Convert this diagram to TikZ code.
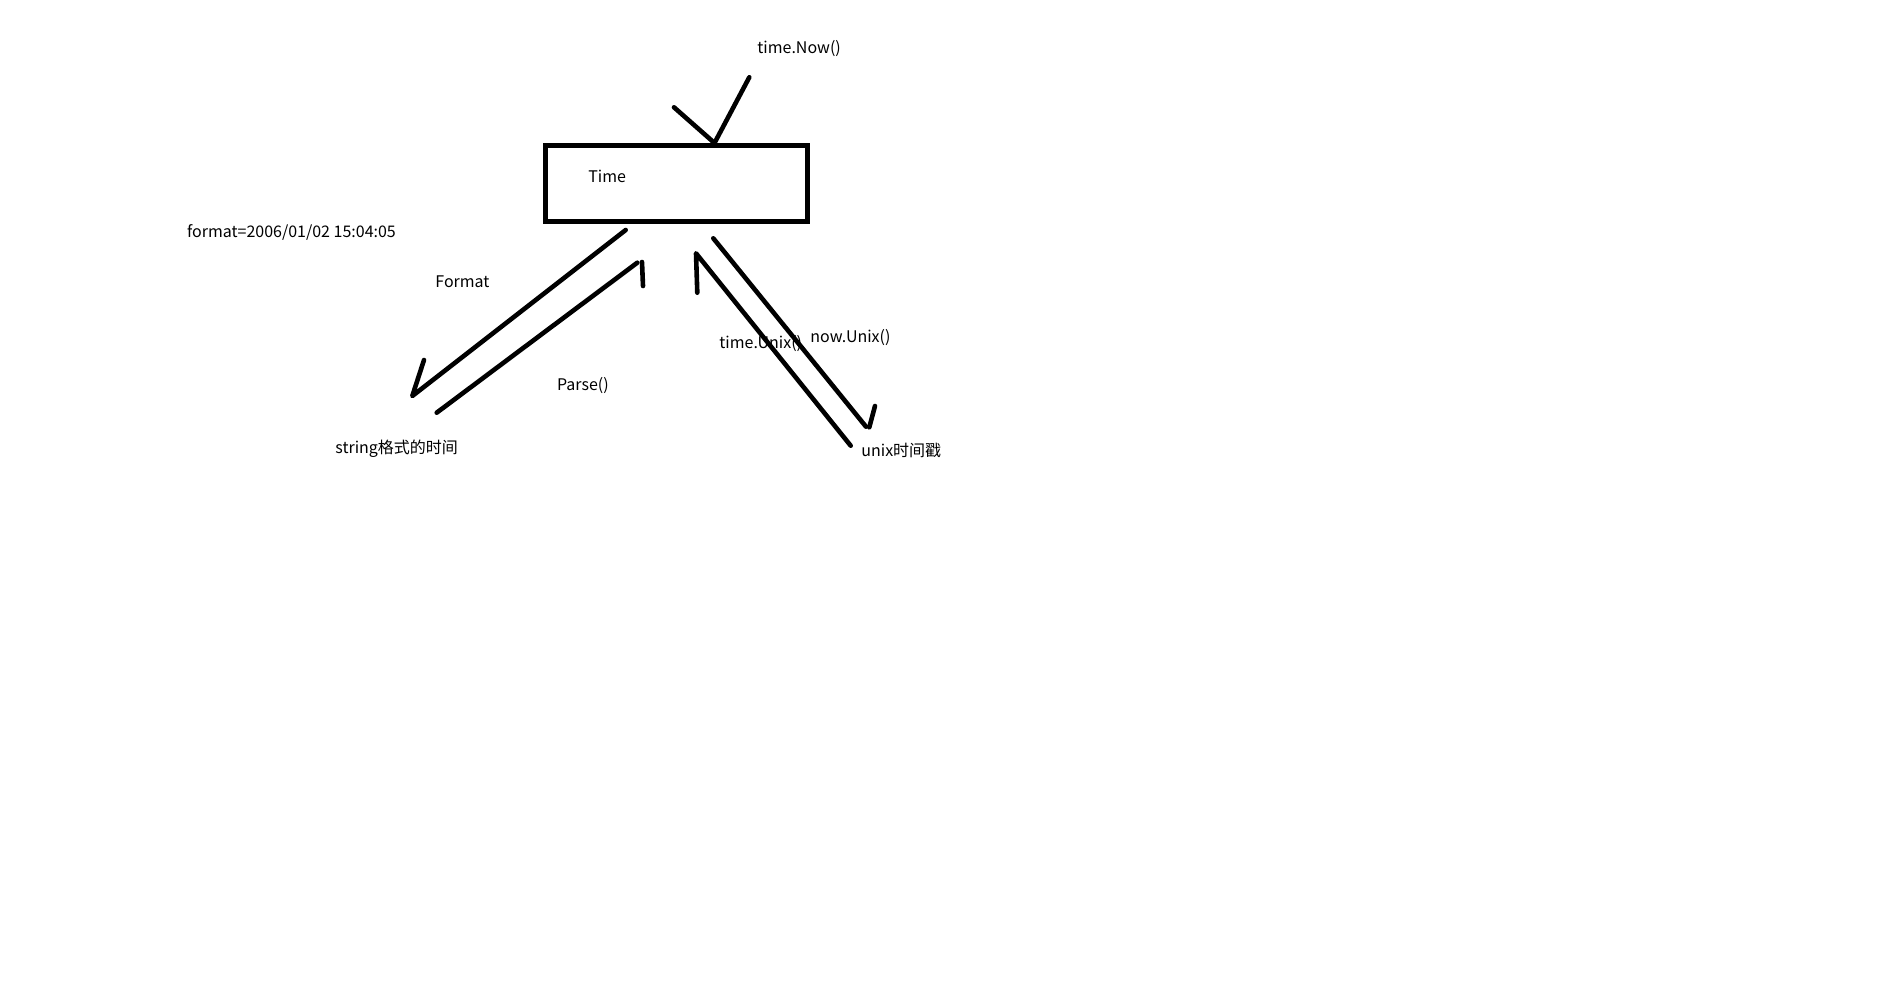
\documentclass[tikz,border=0pt]{standalone}
\usepackage{fontspec}
\setmainfont{Noto Sans CJK SC}
\begin{document}
\begin{tikzpicture}[x=0.5pt,y=-0.5pt,
  stroke/.style={line width=2.3pt,line cap=round,line join=round},
  lbl/.style={font=\fontsize{8}{9}\selectfont,inner sep=0pt,anchor=west},
  boxstyle/.style={draw,line width=2.35pt,minimum width=131pt,minimum height=38pt,inner sep=0pt}]
\fill[white] (0,0) rectangle (1896,1002);
\useasboundingbox (0,0) rectangle (1896,1002);
% box
\node[boxstyle] (time) at (676.7,183.7) {};
\node[lbl] (timelbl) at (588,176.7) {Time};
% labels
\node[lbl] (now) at (757,48.3) {time.Now()};
\node[lbl] (fmtstr) at (186.7,232.7) {format=2006/01/02 15:04:05};
\node[lbl] (format) at (435,281.7) {Format};
\node[lbl] (parse) at (556.7,385.7) {Parse()};
\node[lbl] (str) at (335,448.3) {string格式的时间};
\node[lbl] (tunix) at (719,344) {time.Unix()};
\node[lbl] (nunix) at (810,337.3) {now.Unix()};
\node[lbl] (unix) at (861,450) {unix时间戳};
% coordinates
\coordinate (n0) at (749.3,77.3);
\coordinate (n1) at (714.5,143);
\coordinate (n2) at (674,107.3);
\coordinate (f0) at (625.7,230);
\coordinate (f1) at (412.3,396);
\coordinate (f2) at (424,360);
\coordinate (p0) at (436.7,412.7);
\coordinate (p1) at (637.3,262.7);
\coordinate (p2) at (642,262);
\coordinate (p3) at (643,286);
\coordinate (t0) at (850.7,445.7);
\coordinate (t1) at (696,253.3);
\coordinate (t2) at (697.3,292.7);
\coordinate (u0) at (713.3,238.3);
\coordinate (u1) at (866,426.7);
\coordinate (u2) at (875,406);
\coordinate (u3) at (869.3,427.3);
% connectors
\draw[stroke] (n0) -- (n1);
\draw[stroke] (n2) -- (n1);
\draw[stroke] (f0) -- (f1) -- (f2);
\draw[stroke] (p0) -- (p1);
\draw[stroke] (p2) -- (p3);
\draw[stroke] (t0) -- (t1) -- (t2);
\draw[stroke] (u0) -- (u1);
\draw[stroke] (u2) -- (u3);
\end{tikzpicture}
\end{document}
